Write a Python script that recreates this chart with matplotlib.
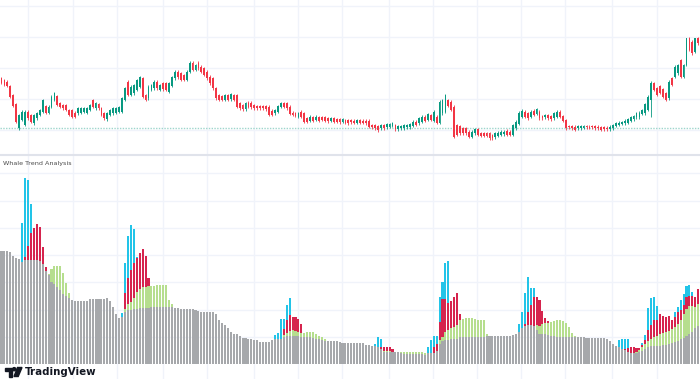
import numpy as np
import matplotlib.pyplot as plt
from matplotlib.patches import Polygon, Circle

# --- price candles (arbitrary price units) ---
opens = [230, 225, 220, 207, 180, 153, 80, 105, 90, 130, 120, 95, 110, 120, 130, 147, 127, 145, 165, 177,
         155, 150, 150, 135, 135, 127, 125, 127, 130, 127, 135, 165, 140, 153, 140, 125, 107, 120, 125, 127,
         130, 130, 165, 220, 180, 185, 195, 205, 230, 180, 170, 195, 200, 220, 195, 215, 215, 190, 207, 230,
         250, 245, 240, 225, 250, 277, 255, 277, 265, 260, 250, 235, 230, 200, 180, 177, 165, 180, 167, 180,
         180, 155, 150, 137, 157, 157, 150, 147, 147, 147, 147, 145, 133, 125, 130, 145, 155, 155, 145, 127,
         125, 115, 130, 125, 110, 103, 113, 105, 113, 113, 113, 111, 103, 110, 108, 108, 99, 105, 105, 105,
         103, 97, 105, 103, 103, 103, 90, 90, 87, 80, 90, 83, 85, 87, 90, 77, 80, 80, 83, 83,
         87, 100, 95, 100, 115, 105, 120, 103, 115, 97, 125, 130, 165, 160, 145, 90, 87, 80, 80, 70,
         55, 65, 77, 65, 65, 65, 65, 60, 53, 57, 60, 62, 73, 70, 60, 80, 93, 115, 130, 125,
         115, 133, 123, 130, 117, 113, 120, 117, 110, 115, 130, 117, 105, 87, 87, 85, 80, 80, 82, 87,
         85, 87, 87, 85, 83, 83, 82, 77, 80, 87, 90, 93, 95, 97, 103, 107, 113, 113, 123, 125,
         135, 165, 215, 200, 207, 197, 185, 170, 230, 235, 245, 285, 235, 270, 350, 340, 310, 350]
closes = [217, 210, 207, 175, 147, 100, 120, 130, 130, 110, 100, 120, 125, 135, 165, 127, 145, 175, 185, 150,
          145, 140, 135, 120, 115, 115, 140, 140, 140, 140, 150, 145, 155, 140, 120, 110, 125, 135, 140, 140,
          143, 170, 200, 180, 205, 210, 225, 233, 175, 165, 205, 210, 220, 200, 210, 197, 195, 215, 233, 250,
          233, 225, 225, 250, 277, 255, 270, 260, 250, 240, 230, 215, 200, 170, 165, 165, 180, 165, 182, 165,
          145, 140, 137, 155, 145, 143, 140, 140, 140, 140, 137, 120, 120, 135, 147, 155, 145, 140, 123, 120,
          117, 125, 115, 100, 100, 115, 103, 115, 103, 105, 103, 101, 110, 100, 99, 98, 107, 97, 95, 98,
          97, 105, 97, 97, 95, 85, 83, 80, 75, 90, 80, 93, 93, 95, 77, 87, 87, 90, 90, 93,
          100, 90, 110, 115, 103, 123, 105, 130, 97, 160, 165, 180, 147, 135, 55, 60, 65, 65, 65, 55,
          70, 77, 60, 57, 57, 57, 50, 50, 65, 67, 70, 70, 60, 60, 90, 100, 127, 133, 115, 110,
          130, 120, 137, 110, 110, 120, 110, 107, 125, 130, 115, 103, 80, 83, 80, 75, 87, 87, 87, 83,
          82, 83, 80, 80, 75, 77, 77, 85, 90, 95, 97, 99, 103, 107, 113, 117, 125, 127, 135, 153,
          175, 215, 195, 180, 187, 175, 165, 220, 210, 265, 270, 235, 270, 350, 315, 305, 350, 335]
wick_lows = {6: 75, 128: 68, 154: 50, 221: 115}
wick_highs = {151: 183, 221: 223, 233: 352, 236: 352}
last_price = 82

# --- Whale Trend Analysis histogram ---
base_gray = [113, 113, 113, 112, 108, 106, 105, 102, 104, 104, 104, 104, 104, 103, 100, 93, 89, 82, 80, 77,
             74, 70, 68, 66, 64, 63, 63, 63, 63, 63, 65, 65, 65, 65, 65, 65, 66, 63, 57, 50,
             46, 47, 52, 54, 54, 55, 55, 56, 56, 56, 56, 57, 57, 57, 57, 57, 57, 57, 57, 56,
             56, 55, 55, 55, 55, 55, 54, 53, 52, 52, 52, 52, 52, 50, 44, 41, 39, 36, 32, 30,
             30, 28, 26, 26, 25, 25, 24, 24, 22, 22, 22, 22, 24, 25, 25, 25, 27, 28, 28, 28,
             28, 28, 27, 27, 27, 27, 26, 25, 25, 24, 23, 23, 23, 23, 23, 22, 21, 21, 21, 21,
             21, 21, 21, 21, 19, 19, 18, 18, 17, 15, 12, 12, 12, 12, 12, 12, 11, 10, 10, 10,
             10, 10, 10, 10, 9, 11, 11, 11, 13, 20, 23, 24, 24, 25, 25, 25, 27, 27, 27, 27,
             27, 27, 27, 27, 27, 28, 28, 28, 28, 28, 28, 28, 28, 28, 29, 30, 32, 36, 38, 39,
             39, 38, 34, 30, 30, 30, 29, 28, 28, 27, 27, 27, 27, 27, 27, 27, 27, 27, 27, 26,
             26, 26, 26, 26, 26, 26, 25, 23, 20, 18, 17, 15, 14, 12, 11, 11, 11, 12, 13, 15,
             17, 18, 18, 18, 18, 19, 19, 20, 21, 22, 23, 25, 26, 28, 30, 32, 36, 38]
green_vals = {16: 90, 17: 95, 18: 98, 19: 98, 20: 98, 21: 91, 22: 81, 23: 71,
              42: 55, 43: 60, 44: 62, 45: 66, 46: 72, 47: 75, 48: 77, 49: 77, 50: 78, 51: 78,
              52: 78, 53: 79, 54: 79, 55: 79, 56: 79, 57: 64, 58: 60,
              96: 29, 97: 31, 98: 33, 99: 34, 100: 33, 101: 32, 102: 31, 103: 31, 104: 32, 105: 32,
              106: 32, 107: 30, 108: 28, 109: 27, 110: 25,
              130: 13, 131: 13, 132: 13, 133: 12, 134: 12, 135: 12, 136: 12, 137: 12, 138: 12,
              139: 12, 140: 12, 141: 12, 142: 12, 143: 12, 144: 11,
              149: 24, 150: 27, 151: 32, 152: 34, 153: 36, 154: 37, 155: 39, 156: 44, 157: 45,
              158: 46, 159: 46, 160: 46, 161: 45, 162: 44, 163: 44, 164: 44, 165: 30,
              177: 33, 178: 35, 179: 37, 180: 38, 181: 38, 182: 39, 183: 38, 184: 40, 185: 41,
              186: 41, 187: 42, 188: 43, 189: 44, 190: 44, 191: 43, 192: 41, 193: 37, 194: 31, 195: 28,
              216: 12, 217: 14, 218: 17, 219: 20, 220: 23, 221: 25, 222: 27, 223: 28, 224: 30,
              225: 31, 226: 32, 227: 33, 228: 35, 229: 37, 230: 40, 231: 44, 232: 50, 233: 55,
              234: 58, 235: 58, 236: 57, 237: 60}
red_vals = {8: 107, 9: 118, 10: 131, 11: 136, 12: 140, 13: 137, 14: 117, 15: 97,
            42: 71, 43: 86, 44: 94, 45: 101, 46: 106, 47: 111, 48: 115, 49: 108, 50: 86,
            96: 35, 97: 44, 98: 49, 99: 47, 100: 47, 101: 45, 102: 40,
            129: 17, 130: 17, 131: 17, 132: 17, 133: 15,
            146: 11, 147: 17, 148: 20, 149: 42, 150: 65, 151: 65, 152: 61, 153: 63, 154: 67,
            155: 71, 156: 50,
            178: 40, 179: 52, 180: 59, 181: 67, 182: 67, 183: 64, 184: 53, 185: 46, 186: 43,
            211: 14, 212: 15, 213: 16, 214: 17, 215: 17, 216: 16, 217: 16, 218: 19, 219: 24,
            220: 34, 221: 39, 222: 44, 223: 44, 224: 50, 225: 48, 226: 47, 227: 48, 228: 44,
            229: 47, 230: 52, 231: 54, 232: 59, 233: 67, 234: 68, 235: 68, 236: 67, 237: 75}
blue_vals = {7: 141, 8: 186, 9: 184, 10: 160,
             41: 51, 42: 101, 43: 128, 44: 139, 45: 135, 46: 107,
             92: 24, 93: 29, 94: 31, 95: 45, 96: 45, 97: 59, 98: 66,
             127: 20, 128: 27, 129: 25,
             145: 17, 146: 24, 147: 28, 148: 28, 149: 67, 150: 82, 151: 101, 152: 103,
             176: 40, 177: 52, 178: 71, 179: 87, 180: 76, 181: 76,
             210: 24, 211: 25, 212: 25, 213: 25, 218: 21, 219: 29, 220: 56, 221: 66, 222: 67, 223: 58,
             229: 52, 230: 57, 231: 64, 232: 70, 233: 78, 234: 79, 235: 72}

n = len(base_gray)
idx = np.arange(n)


def series(d):
    out = np.zeros(n)
    for k, v in d.items():
        out[k] = v
    return out


green = series(green_vals)
red = series(red_vals)
blue = series(blue_vals)

W, H = 700, 379
fig = plt.figure(figsize=(W / 100, H / 100), dpi=100)
fig.patch.set_facecolor("white")

grid_c = "#f0f3fa"
vgrid = [9.0, 24.3, 39.3, 54.9, 69.9, 85.9, 100.9, 115.8, 131.8, 146.8, 161.7, 176.7, 191.7, 207.7, 222.9]
xlim = (-0.51, 237.6)

# price pane
ax_p = fig.add_axes([0, 1 - 155 / H, 1, 155 / H])
ax_p.set_xlim(*xlim)
ax_p.set_ylim(0, 465)
for v in vgrid:
    ax_p.axvline(v, color=grid_c, lw=1, zorder=0)
for k in range(5):
    ax_p.axhline(75 + 93 * k, color=grid_c, lw=1, zorder=0)
ax_p.axhline(last_price, color="#9ed6cc", lw=1, ls=(0, (1, 1)), zorder=1)

o = np.array(opens, dtype=float)
c = np.array(closes, dtype=float)
up = c >= o
hi = np.maximum(o, c) + 4
lo = np.minimum(o, c) - 4
for k, v in wick_highs.items():
    hi[k] = v
for k, v in wick_lows.items():
    lo[k] = v
cols = np.where(up, "#089981", "#f23645")
ax_p.vlines(idx, lo, hi, colors=cols, lw=0.6, zorder=2)
ax_p.bar(idx, np.maximum(np.abs(c - o), 2), bottom=np.minimum(o, c), width=0.62,
         color=cols, linewidth=0, zorder=3)
ax_p.axis("off")

# indicator pane
ax_h = fig.add_axes([0, 0, 1, 223 / H])
ax_h.set_xlim(*xlim)
ax_h.set_ylim(-15, 208)
for v in vgrid:
    ax_h.axvline(v, color=grid_c, lw=1, zorder=0)
for k in range(1, 8):
    ax_h.axhline(27.25 * k, color=grid_c, lw=1, zorder=0)
bw = 0.7
ax_h.bar(idx, blue, width=bw, color="#22c4e8", linewidth=0, zorder=1)
ax_h.bar(idx, red, width=bw, color="#d6244e", linewidth=0, zorder=2)
ax_h.bar(idx, green, width=bw, color="#b6de8e", linewidth=0, zorder=3)
ax_h.bar(idx, base_gray, width=bw, color="#a6a8ab", linewidth=0, zorder=4)
ax_h.axis("off")

# overlay in pixel coordinates: separator, title, logo
ov = fig.add_axes([0, 0, 1, 1], facecolor="none")
ov.set_xlim(0, W)
ov.set_ylim(H, 0)
ov.axis("off")
ov.axhline(155, color="#e0e3eb", lw=1.5)
ov.text(3, 163, "Whale Trend Analysis", fontsize=4.6, color="#4a4a4a", va="center", ha="left")

logo_c = "#131722"
ov.add_patch(Polygon([[5, 367.5], [12, 367.5], [12, 376.5], [9, 376.5], [9, 370.5], [5, 370.5]],
                     closed=True, color=logo_c))
ov.add_patch(Circle((14.2, 369.2), 1.6, color=logo_c))
ov.add_patch(Polygon([[17.5, 367.5], [22, 367.5], [18.2, 376.5], [14, 376.5]], closed=True, color=logo_c))
ov.text(25, 372.3, "TradingView", fontsize=7.4, color=logo_c, va="center", ha="left",
        fontweight="semibold")

fig.savefig("out.png", dpi=100)
